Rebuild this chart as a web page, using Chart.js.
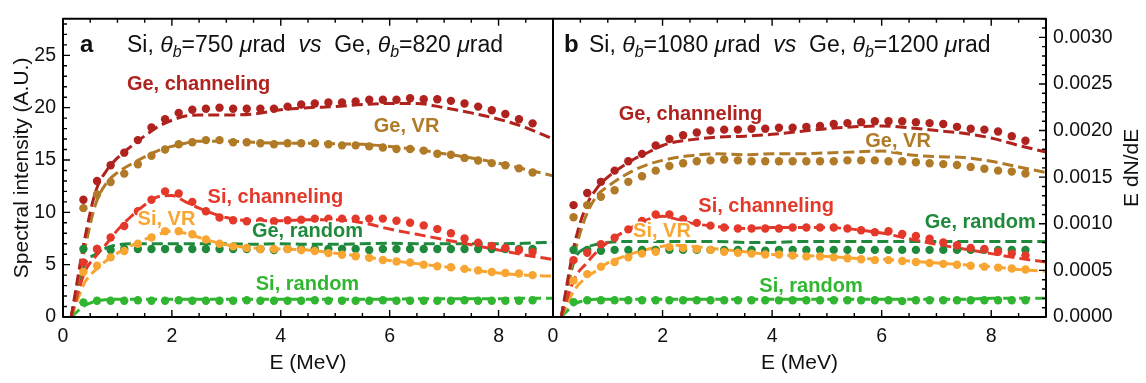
<!DOCTYPE html>
<html>
<head>
<meta charset="utf-8">
<script src="https://cdn.jsdelivr.net/npm/chart.js@4.4.1/dist/chart.umd.min.js"></script>
<style>
    html, body { margin: 0; padding: 0; background: #fff; }
    #wrap { position: relative; width: 1146px; height: 383px; }
    #wrap canvas { position: absolute; left: 0; top: 0; }
</style>
</head>
<body>
<div id="wrap">
    <canvas id="chart-a" width="1146" height="383"></canvas>
    <canvas id="chart-b" width="1146" height="383"></canvas>
</div>
<script>
/* ---------- data ---------- */

// measured points (dots)
const dotE = [0.375, 0.625, 0.875, 1.125, 1.375, 1.625, 1.875, 2.125, 2.375, 2.625,
    2.875, 3.125, 3.375, 3.625, 3.875, 4.125, 4.375, 4.625, 4.875, 5.125,
    5.375, 5.625, 5.875, 6.125, 6.375, 6.625, 6.875, 7.125, 7.375, 7.625,
    7.875, 8.125, 8.375, 8.625];

// simulation (dashed)
const lineE = [0.15, 0.4, 0.6, 0.8, 1.0, 1.25, 1.5, 1.75, 2.0, 2.25, 2.5, 3.0, 3.5,
    4.0, 4.5, 5.0, 5.5, 6.0, 6.5, 7.0, 7.5, 8.0, 8.5, 9.0];

// panel a : Si 750 urad vs Ge 820 urad  (A.U.)
const aGeChDots = [11.2, 13.0, 14.5, 15.7, 16.9, 18.1, 18.9, 19.5, 19.8, 19.9,
    20.0, 19.9, 19.9, 19.9, 19.9, 20.1, 20.3, 20.4, 20.5, 20.5,
    20.6, 20.75, 20.75, 20.75, 20.9, 20.8, 20.8, 20.65, 20.4, 20.1,
    19.75, 19.4, 18.9, 18.5];
const aGeVRDots = [10.4, 11.7, 12.9, 13.7, 14.6, 15.4, 16.0, 16.5, 16.7, 16.9,
    16.9, 16.7, 16.7, 16.6, 16.5, 16.6, 16.6, 16.6, 16.5, 16.4,
    16.4, 16.3, 16.2, 16.05, 16.05, 15.9, 15.6, 15.5, 15.2, 14.95,
    14.7, 14.5, 14.2, 13.8];
const aSiChDots = [5.2, 6.5, 7.6, 8.7, 10.1, 11.2, 12.0, 11.8, 11.0, 10.1,
    9.5, 9.25, 9.15, 9.15, 9.15, 9.25, 9.3, 9.4, 9.4, 9.4,
    9.4, 9.4, 9.4, 9.2, 9.0, 8.75, 8.4, 8.0, 7.5, 7.1,
    6.8, 6.6, 6.4, 6.2];
const aSiVRDots = [4.3, 4.9, 5.7, 6.3, 7.0, 7.6, 8.2, 8.2, 7.9, 7.4,
    7.0, 6.75, 6.6, 6.5, 6.5, 6.5, 6.4, 6.3, 6.1, 5.95,
    5.8, 5.65, 5.45, 5.3, 5.2, 5.0, 4.85, 4.75, 4.6, 4.45,
    4.3, 4.2, 4.15, 4.0];
const aGeRandDots = [6.5, 6.5, 6.4, 6.5, 6.5, 6.5, 6.5, 6.5, 6.5, 6.5,
    6.5, 6.5, 6.5, 6.5, 6.4, 6.5, 6.5, 6.5, 6.5, 6.5,
    6.5, 6.4, 6.5, 6.5, 6.5, 6.5, 6.5, 6.5, 6.5, 6.5,
    6.5, 6.5, 6.5, 6.5];
const aSiRandDots = [1.4, 1.55, 1.55, 1.55, 1.6, 1.55, 1.55, 1.6, 1.55, 1.55,
    1.55, 1.55, 1.6, 1.55, 1.55, 1.55, 1.55, 1.6, 1.55, 1.55,
    1.55, 1.55, 1.6, 1.55, 1.55, 1.55, 1.55, 1.55, 1.6, 1.55,
    1.55, 1.55, 1.55, 1.6];

const aGeChLine = [0, 7.5, 12.0, 14.0, 15.2, 16.3, 17.3, 18.2, 18.8, 19.2, 19.3, 19.3, 19.4,
    19.8, 20.0, 20.1, 20.3, 20.4, 20.4, 20.0, 19.5, 18.9, 18.1, 17.0];
const aGeVRLine = [0, 6.5, 10.8, 12.8, 13.8, 14.6, 15.3, 15.9, 16.3, 16.6, 16.8, 16.8, 16.7,
    16.6, 16.6, 16.55, 16.5, 16.3, 16.0, 15.6, 15.2, 14.7, 14.1, 13.5];
const aSiChLine = [0, 4.3, 5.8, 7.0, 8.3, 9.6, 10.7, 11.5, 11.6, 11.0, 10.4, 9.5, 9.2,
    9.2, 9.3, 9.3, 9.0, 8.4, 7.9, 7.4, 6.9, 6.4, 5.9, 5.5];
const aSiVRLine = [0, 3.3, 4.5, 5.4, 6.1, 6.8, 7.4, 7.9, 8.2, 8.0, 7.6, 6.9, 6.6,
    6.5, 6.4, 6.1, 5.8, 5.4, 5.1, 4.8, 4.5, 4.2, 4.0, 3.9];
const aGeRandLine = [0, 5.0, 6.0, 6.6, 6.9, 7.0, 7.0, 7.0, 7.0, 7.0, 7.0, 7.0, 6.95,
    7.0, 6.95, 6.95, 7.0, 7.05, 7.0, 7.0, 7.0, 7.0, 7.05, 7.15];
const aSiRandLine = [0, 1.1, 1.5, 1.65, 1.7, 1.7, 1.7, 1.7, 1.7, 1.7, 1.7, 1.7, 1.7,
    1.7, 1.7, 1.7, 1.7, 1.7, 1.75, 1.75, 1.75, 1.75, 1.8, 1.8];

// panel b : Si 1080 urad vs Ge 1200 urad  (E dN/dE)
const bGeChDots = [0.00120, 0.00133, 0.00145, 0.00157, 0.00167, 0.00175, 0.00184, 0.00191, 0.00195, 0.00198,
    0.00200, 0.00201, 0.00201, 0.00202, 0.00202, 0.00203, 0.00203, 0.00204, 0.00205, 0.00207,
    0.00208, 0.00209, 0.00210, 0.00210, 0.00210, 0.00209, 0.00208, 0.00207, 0.00204, 0.00202,
    0.00201, 0.00199, 0.00194, 0.00189];
const bGeVRDots = [0.00107, 0.00120, 0.00129, 0.00136, 0.00145, 0.00151, 0.00157, 0.00162, 0.00165, 0.00167,
    0.00168, 0.00169, 0.00168, 0.00167, 0.00167, 0.00167, 0.00167, 0.00167, 0.00167, 0.00167,
    0.00168, 0.00168, 0.00168, 0.00167, 0.00167, 0.00166, 0.00165, 0.00164, 0.00163, 0.00161,
    0.00159, 0.00157, 0.00156, 0.00154];
const bSiChDots = [0.00061, 0.00069, 0.00078, 0.00085, 0.00094, 0.00103, 0.00110, 0.00110, 0.00105, 0.00101,
    0.00098, 0.00096, 0.00095, 0.00095, 0.00095, 0.00095, 0.00096, 0.00096, 0.00096, 0.00096,
    0.00095, 0.00093, 0.00091, 0.00092, 0.00089, 0.00087, 0.00084, 0.00080, 0.00077, 0.00074,
    0.00073, 0.00070, 0.00068, 0.00066];
const bSiVRDots = [0.00039, 0.00046, 0.00054, 0.00059, 0.00064, 0.00068, 0.00070, 0.00075, 0.00074, 0.00073,
    0.00072, 0.00070, 0.00069, 0.00068, 0.00067, 0.00067, 0.00066, 0.00065, 0.00065, 0.00064,
    0.00063, 0.00062, 0.00061, 0.00061, 0.00060, 0.00059, 0.00058, 0.00057, 0.00056, 0.00055,
    0.00054, 0.00053, 0.00052, 0.00051];
const bGeRandDots = [0.00072, 0.00072, 0.00071, 0.00072, 0.00072, 0.00072, 0.00072, 0.00072, 0.00072, 0.00072,
    0.00072, 0.00072, 0.00072, 0.00072, 0.00071, 0.00072, 0.00072, 0.00072, 0.00072, 0.00072,
    0.00072, 0.00072, 0.00072, 0.00072, 0.00072, 0.00072, 0.00072, 0.00072, 0.00072, 0.00072,
    0.00072, 0.00072, 0.00072, 0.00072];
const bSiRandDots = [0.00016, 0.00018, 0.00018, 0.00018, 0.00018, 0.00018, 0.00018, 0.00018, 0.00018, 0.00018,
    0.00018, 0.00018, 0.00018, 0.00018, 0.00018, 0.00018, 0.00018, 0.00018, 0.00018, 0.00018,
    0.00018, 0.00018, 0.00018, 0.00018, 0.00017, 0.00018, 0.00018, 0.00018, 0.00018, 0.00018,
    0.00018, 0.00018, 0.00018, 0.00018];

const bGeChLine = [0, 0.00080, 0.00118, 0.00138, 0.00150, 0.00161, 0.00170, 0.00177, 0.00184, 0.00188, 0.00190, 0.00193, 0.00194,
    0.00196, 0.00199, 0.00202, 0.00204, 0.00205, 0.00203, 0.00200, 0.00197, 0.00192, 0.00184, 0.00177];
const bGeVRLine = [0, 0.00070, 0.00108, 0.00130, 0.00140, 0.00150, 0.00158, 0.00164, 0.00168, 0.00171, 0.00173, 0.00175, 0.00174,
    0.00175, 0.00175, 0.00176, 0.00177, 0.00178, 0.00174, 0.00172, 0.00171, 0.00167, 0.00161, 0.00155];
const bSiChLine = [0, 0.00042, 0.00057, 0.00070, 0.00080, 0.00090, 0.00098, 0.00105, 0.00108, 0.00105, 0.00101, 0.00097, 0.00095,
    0.00096, 0.00096, 0.00096, 0.00094, 0.00090, 0.00084, 0.00078, 0.00073, 0.00068, 0.00063, 0.00059];
const bSiVRLine = [0, 0.00030, 0.00042, 0.00050, 0.00058, 0.00064, 0.00069, 0.00073, 0.00076, 0.00077, 0.00076, 0.00073, 0.00070,
    0.00067, 0.00066, 0.00065, 0.00063, 0.00062, 0.00060, 0.00058, 0.00056, 0.00054, 0.00051, 0.00049];
const bGeRandLine = [0, 0.00062, 0.00074, 0.00078, 0.00080, 0.00081, 0.00081, 0.00081, 0.00081, 0.00081, 0.00081, 0.00081, 0.00080,
    0.00080, 0.00081, 0.00081, 0.00081, 0.00081, 0.00081, 0.00081, 0.00081, 0.00081, 0.00081, 0.00081];
const bSiRandLine = [0, 0.00014, 0.00018, 0.00019, 0.00019, 0.00019, 0.00019, 0.00019, 0.00019, 0.00019, 0.00019, 0.00019, 0.00019,
    0.00019, 0.00019, 0.00019, 0.00019, 0.00019, 0.00019, 0.00019, 0.00019, 0.00020, 0.00020, 0.00020];

// series labels (data coordinates)
const labelsA = [
    { text: 'Ge, channeling', x: 2.49, y: 22.2, key: 'geCh' },
    { text: 'Ge, VR', x: 6.31, y: 18.2, key: 'geVR' },
    { text: 'Si, channeling', x: 3.9, y: 11.4, key: 'siCh' },
    { text: 'Si, VR', x: 1.9, y: 9.3, key: 'siVR' },
    { text: 'Ge, random', x: 4.49, y: 8.15, key: 'geRand' },
    { text: 'Si, random', x: 4.49, y: 3.13, key: 'siRand' },
];
const labelsB = [
    { text: 'Ge, channeling', x: 2.51, y: 0.00217, key: 'geCh' },
    { text: 'Ge, VR', x: 6.3, y: 0.00188, key: 'geVR' },
    { text: 'Si, channeling', x: 3.89, y: 0.00119, key: 'siCh' },
    { text: 'Si, VR', x: 1.99, y: 0.00092, key: 'siVR' },
    { text: 'Ge, random', x: 7.8, y: 0.00101, key: 'geRand' },
    { text: 'Si, random', x: 4.71, y: 0.00033, key: 'siRand' },
];

const COLORS = {
    geCh: '#af221e',
    geVR: '#b07a26',
    siCh: '#e4392a',
    siVR: '#f8a532',
    geRand: '#1f8a3b',
    siRand: '#30b630',
};

const FONT = '"Liberation Sans", Arial, Helvetica, sans-serif';

/* ---------- helpers ---------- */

function pts(xs, ys) {
    return xs.map((x, i) => ({ x, y: ys[i] }));
}

function dotSet(key, ys) {
    return {
        data: pts(dotE, ys),
        showLine: false,
        pointRadius: 4.2,
        pointHoverRadius: 4.2,
        pointBackgroundColor: COLORS[key],
        pointBorderWidth: 0,
        borderColor: COLORS[key],
    };
}

function lineSet(key, ys) {
    return {
        data: pts(lineE, ys),
        showLine: true,
        pointRadius: 0,
        borderColor: COLORS[key],
        borderWidth: 3,
        borderDash: [11, 5],
        cubicInterpolationMode: 'monotone',
        fill: false,
    };
}

function drawRich(ctx, x, y, parts, size) {
    let cx = x;
    parts.forEach(p => {
        const sz = p.sub ? Math.round(size * 0.7) : size;
        ctx.font = (p.it ? 'italic ' : '') + sz + 'px ' + FONT;
        ctx.fillText(p.t, cx, p.sub ? y + size * 0.28 : y);
        cx += ctx.measureText(p.t).width;
    });
}

// frame with inward ticks, labels and titles
function panelPlugin(cfg) {
    return {
        id: 'panel',
        afterDatasetsDraw(chart) {
            const ctx = chart.ctx;
            const a = chart.chartArea;
            const xs = chart.scales.x;
            const ys = chart.scales.y;
            ctx.save();

            // series labels
            ctx.textAlign = 'center';
            ctx.textBaseline = 'middle';
            ctx.font = 'bold 20px ' + FONT;
            ctx.lineJoin = 'round';
            cfg.labels.forEach(l => {
                const px = xs.getPixelForValue(l.x);
                const py = ys.getPixelForValue(l.y);
                ctx.strokeStyle = '#fff';
                ctx.lineWidth = 3;
                ctx.strokeText(l.text, px, py);
                ctx.fillStyle = COLORS[l.key];
                ctx.fillText(l.text, px, py);
            });

            // frame
            ctx.strokeStyle = '#000';
            ctx.lineWidth = 2;
            ctx.strokeRect(a.left, a.top, a.right - a.left, a.bottom - a.top);

            // x ticks, bottom and top
            ctx.lineWidth = 1.4;
            ctx.beginPath();
            for (let k = 0; k <= 18; k++) {
                const px = xs.getPixelForValue(k * 0.5);
                const len = k % 4 === 0 ? 7 : 4;
                ctx.moveTo(px, a.bottom);
                ctx.lineTo(px, a.bottom - len);
                ctx.moveTo(px, a.top);
                ctx.lineTo(px, a.top + len);
            }
            // y ticks
            const n = Math.floor(ys.max / cfg.minor + 1e-6);
            for (let k = 0; k <= n; k++) {
                const py = ys.getPixelForValue(k * cfg.minor);
                const len = k % cfg.every === 0 ? 7 : 4;
                if (cfg.side === 'left') {
                    ctx.moveTo(a.left, py);
                    ctx.lineTo(a.left + len, py);
                } else {
                    ctx.moveTo(a.right, py);
                    ctx.lineTo(a.right - len, py);
                }
            }
            ctx.stroke();

            // axis titles
            ctx.fillStyle = '#111';
            ctx.textAlign = 'center';
            ctx.textBaseline = 'middle';
            ctx.font = '21px ' + FONT;
            ctx.fillText('E (MeV)', (a.left + a.right) / 2, 363);
            ctx.save();
            ctx.translate(cfg.yTitleX, (a.top + a.bottom) / 2);
            ctx.rotate(-Math.PI / 2);
            ctx.fillText(cfg.yTitle, 0, 0);
            ctx.restore();

            // panel letter + title
            ctx.textAlign = 'left';
            ctx.textBaseline = 'middle';
            ctx.font = 'bold 24px ' + FONT;
            ctx.fillText(cfg.letter, a.left + cfg.letterDx, a.top + 27);
            drawRich(ctx, a.left + cfg.titleDx, a.top + 27, cfg.title, 23);

            ctx.restore();
        },
    };
}

function makeChart(id, opts) {
    const sets = [
        dotSet('geCh', opts.dots[0]), dotSet('geVR', opts.dots[1]),
        dotSet('siCh', opts.dots[2]), dotSet('siVR', opts.dots[3]),
        dotSet('geRand', opts.dots[4]), dotSet('siRand', opts.dots[5]),
        lineSet('geCh', opts.lines[0]), lineSet('geVR', opts.lines[1]),
        lineSet('siCh', opts.lines[2]), lineSet('siVR', opts.lines[3]),
        lineSet('geRand', opts.lines[4]), lineSet('siRand', opts.lines[5]),
    ];
    return new Chart(document.getElementById(id), {
        type: 'scatter',
        data: { datasets: sets },
        options: {
            responsive: false,
            animation: false,
            devicePixelRatio: 1,
            layout: { padding: opts.padding },
            plugins: { legend: { display: false }, tooltip: { enabled: false } },
            scales: {
                x: {
                    type: 'linear',
                    min: 0, max: 9,
                    grid: { display: false, drawTicks: false },
                    border: { display: false },
                    ticks: {
                        stepSize: 2, includeBounds: false, padding: 8,
                        color: '#111', font: { family: FONT, size: 19.5 },
                    },
                    afterFit: s => { s.height = 66; },
                },
                y: {
                    type: 'linear',
                    position: opts.side,
                    min: 0, max: opts.yMax,
                    grid: { display: false, drawTicks: false },
                    border: { display: false },
                    ticks: {
                        stepSize: opts.yStep, includeBounds: false, padding: 7,
                        color: '#111', font: { family: FONT, size: 19.5 },
                        callback: opts.fmt,
                    },
                    afterFit: s => { s.width = opts.yWidth; },
                },
            },
        },
        plugins: [panelPlugin(opts.panel)],
    });
}

makeChart('chart-a', {
    dots: [aGeChDots, aGeVRDots, aSiChDots, aSiVRDots, aGeRandDots, aSiRandDots],
    lines: [aGeChLine, aGeVRLine, aSiChLine, aSiVRLine, aGeRandLine, aSiRandLine],
    padding: { left: 0, right: 1146 - 553, top: 15, bottom: 0 },
    side: 'left', yMax: 28.5, yStep: 5, yWidth: 63,
    fmt: v => String(v),
    panel: {
        labels: labelsA, side: 'left', minor: 1, every: 5,
        yTitle: 'Spectral intensity (A.U.)', yTitleX: 22,
        letter: 'a', letterDx: 17, titleDx: 64,
        title: [
            { t: 'Si, ' }, { t: 'θ', it: 1 }, { t: 'b', it: 1, sub: 1 }, { t: '=750 ' },
            { t: 'μ', it: 1 }, { t: 'rad  ' }, { t: 'vs', it: 1 }, { t: '  Ge, ' },
            { t: 'θ', it: 1 }, { t: 'b', it: 1, sub: 1 }, { t: '=820 ' },
            { t: 'μ', it: 1 }, { t: 'rad' },
        ],
    },
});

makeChart('chart-b', {
    dots: [bGeChDots, bGeVRDots, bSiChDots, bSiVRDots, bGeRandDots, bSiRandDots],
    lines: [bGeChLine, bGeVRLine, bSiChLine, bSiVRLine, bGeRandLine, bSiRandLine],
    padding: { left: 553, right: 0, top: 15, bottom: 0 },
    side: 'right', yMax: 0.0032, yStep: 0.0005, yWidth: 100,
    fmt: v => v.toFixed(4),
    panel: {
        labels: labelsB, side: 'right', minor: 0.0001, every: 5,
        yTitle: 'E dN/dE', yTitleX: 1132,
        letter: 'b', letterDx: 11, titleDx: 36,
        title: [
            { t: 'Si, ' }, { t: 'θ', it: 1 }, { t: 'b', it: 1, sub: 1 }, { t: '=1080 ' },
            { t: 'μ', it: 1 }, { t: 'rad  ' }, { t: 'vs', it: 1 }, { t: '  Ge, ' },
            { t: 'θ', it: 1 }, { t: 'b', it: 1, sub: 1 }, { t: '=1200 ' },
            { t: 'μ', it: 1 }, { t: 'rad' },
        ],
    },
});
</script>
</body>
</html>
